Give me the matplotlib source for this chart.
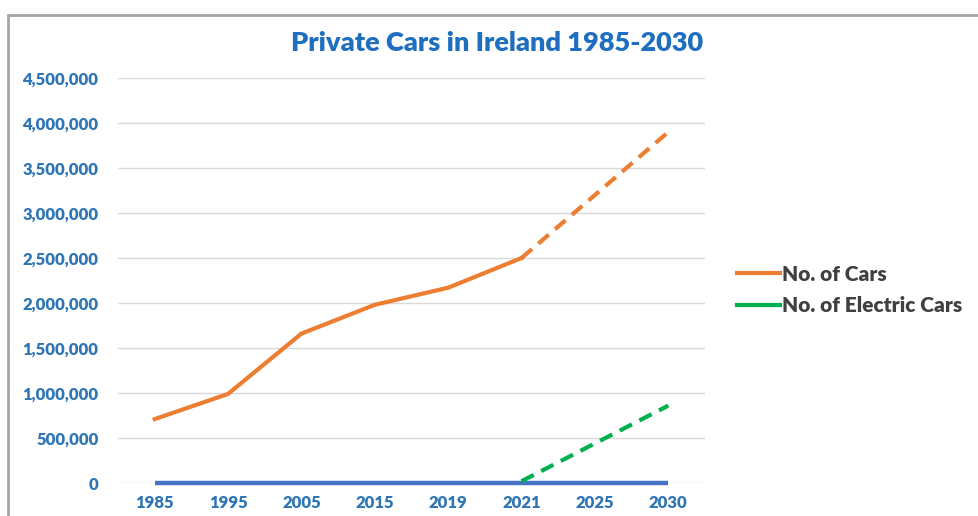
import matplotlib
matplotlib.use("Agg")
import matplotlib.pyplot as plt
from matplotlib.ticker import FuncFormatter
from matplotlib.patches import Rectangle
from matplotlib.lines import Line2D

# ---- data ----
years = ['1985', '1995', '2005', '2015', '2019', '2021', '2025', '2030']
cars_years = ['1985', '1995', '2005', '2015', '2019', '2021']
cars_values = [710000, 990000, 1660000, 1980000, 2170000, 2500000]
cars_proj_years = ['2021', '2025', '2030']
cars_proj_values = [2500000, 3200000, 3900000]
ev_proj_years = ['2021', '2025', '2030']
ev_proj_values = [20000, 440000, 860000]
base_values = [0, 0, 0, 0, 0, 0, 0, 0]
y_ticks = [0, 500000, 1000000, 1500000, 2000000, 2500000, 3000000, 3500000, 4000000, 4500000]

ORANGE = '#ED7D31'
GREEN = '#00B050'
BLUE = '#4472C4'
TICKBLUE = '#2E75B6'
TITLEBLUE = '#1F6FC0'

W, H = 979, 516
fig = plt.figure(figsize=(W / 100, H / 100), dpi=100)
plt.rcParams['font.family'] = ['Lato', 'DejaVu Sans']

# outer frame (cropped on right/bottom)
fig.patches.append(Rectangle((8 / W, -0.05), 1.2, 1 - 15 / H + 0.05,
                             transform=fig.transFigure, fill=False,
                             edgecolor='#A6A6A6', linewidth=2))

ax = fig.add_axes([118 / W, 1 - 483 / H, (705 - 118) / W, (483 - 78) / H])
ax.set_facecolor('none')

ax.plot(years, base_values, color=BLUE, linewidth=3.2, solid_capstyle='butt',
        zorder=3, clip_on=False)
ax.plot(cars_years, cars_values, color=ORANGE, linewidth=3, zorder=4)
ax.plot(cars_proj_years, cars_proj_values, color=ORANGE, linewidth=3,
        linestyle=(0, (3.3, 2)), zorder=4)
ax.plot(ev_proj_years, ev_proj_values, color=GREEN, linewidth=3,
        linestyle=(0, (3.3, 2)), zorder=4, clip_on=False)

ax.set_xlim(-0.5, len(years) - 0.5)
ax.set_ylim(0, 4500000)
ax.set_yticks(y_ticks)
ax.yaxis.set_major_formatter(FuncFormatter(lambda v, p: f'{int(v):,}'))
ax.grid(axis='y', color='#D9D9D9', linewidth=1)
ax.set_axisbelow(True)
for s in ax.spines.values():
    s.set_visible(False)
ax.tick_params(axis='both', length=0)
ax.tick_params(axis='y', pad=14)
ax.tick_params(axis='x', pad=9)
for lab in ax.get_yticklabels() + ax.get_xticklabels():
    lab.set_color(TICKBLUE)
    lab.set_fontweight('heavy')
    lab.set_fontsize(12)

fig.text(497 / W, 1 - 43 / H, 'Private Cars in Ireland 1985-2030', ha='center', va='center',
         color=TITLEBLUE, fontsize=19.5, fontweight='heavy')

handles = [Line2D([], [], color=ORANGE, linewidth=3),
           Line2D([], [], color=GREEN, linewidth=3)]
leg = fig.legend(handles, ['No. of Cars', 'No. of Electric Cars'],
                 loc='center left', bbox_to_anchor=(718 / W, 1 - 290 / H),
                 frameon=False, handlelength=2.1, handletextpad=0.05,
                 labelspacing=0.6, prop={'size': 15, 'weight': 'heavy'})
for t in leg.get_texts():
    t.set_color('#404040')

fig.savefig('out.png', dpi=100)
